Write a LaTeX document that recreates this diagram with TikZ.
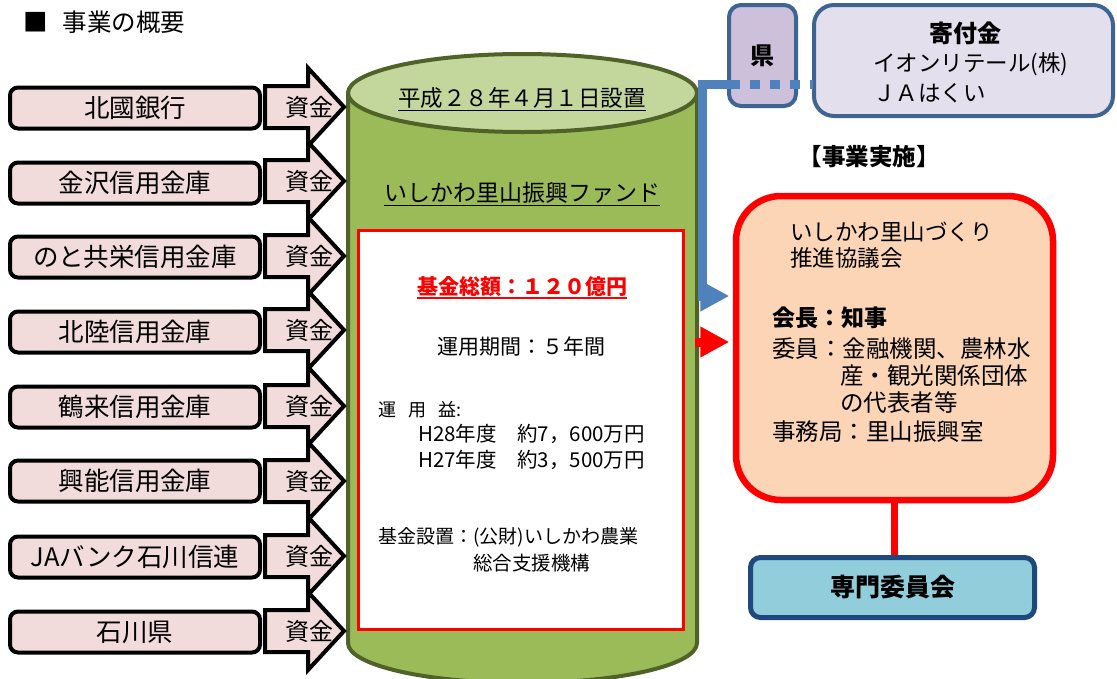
\documentclass[tikz,border=0pt]{standalone}
\usepackage{fontspec}
\setmainfont{Noto Sans CJK JP}
\usetikzlibrary{arrows.meta}
\definecolor{srcpink}{HTML}{F2DCDB}
\definecolor{cylbody}{HTML}{9BBB59}
\definecolor{cyltop}{HTML}{C3D69B}
\definecolor{cylborder}{HTML}{4F6228}
\definecolor{flowblue}{HTML}{4F81BD}
\definecolor{kenfill}{HTML}{CCC0DA}
\definecolor{kifufill}{HTML}{E4DFEC}
\definecolor{boxborder}{HTML}{3E6491}
\definecolor{councilfill}{HTML}{FBD5B5}
\definecolor{senmonfill}{HTML}{92CDDC}
\definecolor{senmonborder}{HTML}{1F497D}
\definecolor{pured}{HTML}{FF0000}
\newcommand{\fs}[1]{\fontsize{#1}{#1}\selectfont}
\tikzset{
  srcbox/.style={draw=black, line width=4pt, fill=srcpink, rounded corners=8pt,
    minimum width=250pt, minimum height=41pt, inner sep=0pt, font=\fs{25.5}},
  fundshape/.style={draw=black, line width=4pt, fill=srcpink, line join=miter, miter limit=10},
  fundtext/.style={inner sep=0pt, font=\fs{24}},
  plain/.style={inner sep=0pt},
  uline/.style={line width=1.4pt},
  cylbodyst/.style={draw=cylborder, line width=4pt, fill=cylbody},
  cyltopst/.style={draw=cylborder, line width=4pt, fill=cyltop},
  infobox/.style={draw=pured, line width=2.5pt, fill=white, minimum width=325pt, minimum height=399pt},
  kenbox/.style={draw=boxborder, line width=4pt, fill=kenfill, rounded corners=12pt,
    minimum width=67pt, minimum height=101pt, inner sep=0pt, font=\fs{24}\bfseries},
  kifubox/.style={draw=boxborder, line width=4pt, fill=kifufill, rounded corners=20pt,
    minimum width=299pt, minimum height=111pt},
  councilbox/.style={draw=pured, line width=6.5pt, fill=councilfill, rounded corners=45pt,
    minimum width=317pt, minimum height=304pt},
  senmonbox/.style={draw=senmonborder, line width=5pt, fill=senmonfill, rounded corners=10pt,
    minimum width=284pt, minimum height=60pt, inner sep=0pt, font=\fs{25}\bfseries},
  blueline/.style={draw=flowblue, line width=9pt, line join=miter},
  redarrow/.style={draw=pured, line width=9pt, -{Triangle[length=29pt,width=29pt]}, shorten >=3.5pt},
}
\newcommand{\fundarrow}[2]{%
  \begin{scope}[shift={(0,#1)}]
    \draw[fundshape] (265,-21) -- (308,-21) -- (308,-39) -- (344,0) -- (308,39) -- (308,21) -- (265,21) -- cycle;
    \node[fundtext] (#2) at (309,0) {資金};
  \end{scope}}
\begin{document}
\begin{tikzpicture}[x=1pt,y=-1pt]
\useasboundingbox (0,0) rectangle (1117,678);
\fill[white] (0,0) rectangle (1117,678);

% title
\node[plain, anchor=west, font=\fs{24.5}] (title) at (23,22) {■\hspace{15pt}事業の概要};

% cylinder
\draw[cylbodyst] (348,93) -- (348,643) arc[start angle=180, end angle=360, x radius=174.5pt, y radius=40pt] -- (697,93) -- cycle;
\draw[cyltopst] (522.5,93) ellipse[x radius=174.5pt, y radius=39pt];
\node[plain, font=\fs{22.5}] (est) at (522,98) {平成２８年４月１日設置};
\draw[uline] ([yshift=-4pt]est.base west) -- ([yshift=-4pt]est.base east);
\node[plain, font=\fs{23}] (fund) at (522,193) {いしかわ里山振興ファンド};
\draw[uline] ([yshift=-4pt]fund.base west) -- ([yshift=-4pt]fund.base east);

% info box
\node[infobox] (info) at (521,430) {};
\node[plain, font=\fs{21}\bfseries, text=pured] (amt) at (522,286) {基金総額：１２０億円};
\draw[uline, pured] ([yshift=-4pt]amt.base west) -- ([yshift=-4pt]amt.base east);
\node[plain, font=\fs{21}] (period) at (521,347) {運用期間：５年間};
\node[plain, anchor=west, font=\fs{18}] (gain) at (378,410) {運\hspace{12pt}用\hspace{12pt}益:};
\node[plain, anchor=west, font=\fs{20.5}] (h28) at (418,434) {H28年度　約7，600万円};
\node[plain, anchor=west, font=\fs{20.5}] (h27) at (418,460) {H27年度　約3，500万円};
\node[plain, anchor=west, font=\fs{19}] (setup1) at (378,537) {基金設置：(公財)いしかわ農業};
\node[plain, anchor=west, font=\fs{19.5}] (setup2) at (473,563) {総合支援機構};

% sources
\node[srcbox] (s1) at (135,108) {北國銀行};
\node[srcbox] (s2) at (135,183) {金沢信用金庫};
\node[srcbox] (s3) at (135,257) {のと共栄信用金庫};
\node[srcbox] (s4) at (135,332) {北陸信用金庫};
\node[srcbox] (s5) at (135,407) {鶴来信用金庫};
\node[srcbox] (s6) at (135,481) {興能信用金庫};
\node[srcbox] (s7) at (135,557) {JAバンク石川信連};
\node[srcbox] (s8) at (135,632) {石川県};

\fundarrow{107}{f1}
\fundarrow{181}{f2}
\fundarrow{256}{f3}
\fundarrow{330}{f4}
\fundarrow{406}{f5}
\fundarrow{481}{f6}
\fundarrow{556}{f7}
\fundarrow{631}{f8}

% donors
\node[kifubox] (kifu) at (963.5,60.5) {};
\node[plain, font=\fs{24}\bfseries] (kifut) at (965,33) {寄付金};
\node[plain, anchor=west, font=\fs{22.5}] (aeon) at (873,64) {イオンリテール(株)};
\node[plain, anchor=west, font=\fs{22.5}] (ja) at (873,93) {ＪＡはくい};
\node[kenbox] (ken) at (762.5,55.5) {県};

% implementation
\node[plain, font=\fs{23.5}\bfseries] (impl) at (869,157) {【事業実施】};
\node[councilbox] (council) at (894.5,348) {};
\node[plain, anchor=west, align=left, font=\fontsize{22.5}{26}\selectfont] (c1) at (790,245) {いしかわ里山づくり\\推進協議会};
\node[plain, anchor=west, font=\fs{23}\bfseries] (c2) at (772,318) {会長：知事};
\node[plain, anchor=west, font=\fs{23.5}] (c3) at (772,349) {委員：金融機関、農林水};
\node[plain, anchor=west, font=\fs{23.5}] (c4) at (840,376) {産・観光関係団体};
\node[plain, anchor=west, font=\fs{23.5}] (c5) at (840,403) {の代表者等};
\node[plain, anchor=west, font=\fs{23.5}] (c6) at (772,432) {事務局：里山振興室};

\node[senmonbox] (senmon) at (892.5,587.5) {専門委員会};
\draw[pured, line width=7pt] (council.south) -- (council.south |- senmon.north);

% blue flow
\coordinate (kifuin) at (813,84);
\coordinate (kenl) at (740,84);
\coordinate (bendA) at (702,84);
\coordinate (bendB) at (702,296);
\draw[blueline, dash pattern=on 10pt off 10pt, dash phase=10pt] (kenl) -- (kifuin);
\draw[blueline, -{Triangle[length=29pt,width=29pt]}, shorten >=3.5pt] (kenl) -- (bendA) -- (bendB) -- (bendB -| council.west);

% red flow
\coordinate (cylr) at (695,342);
\draw[redarrow] (cylr) -- (cylr -| council.west);
\end{tikzpicture}
\end{document}
